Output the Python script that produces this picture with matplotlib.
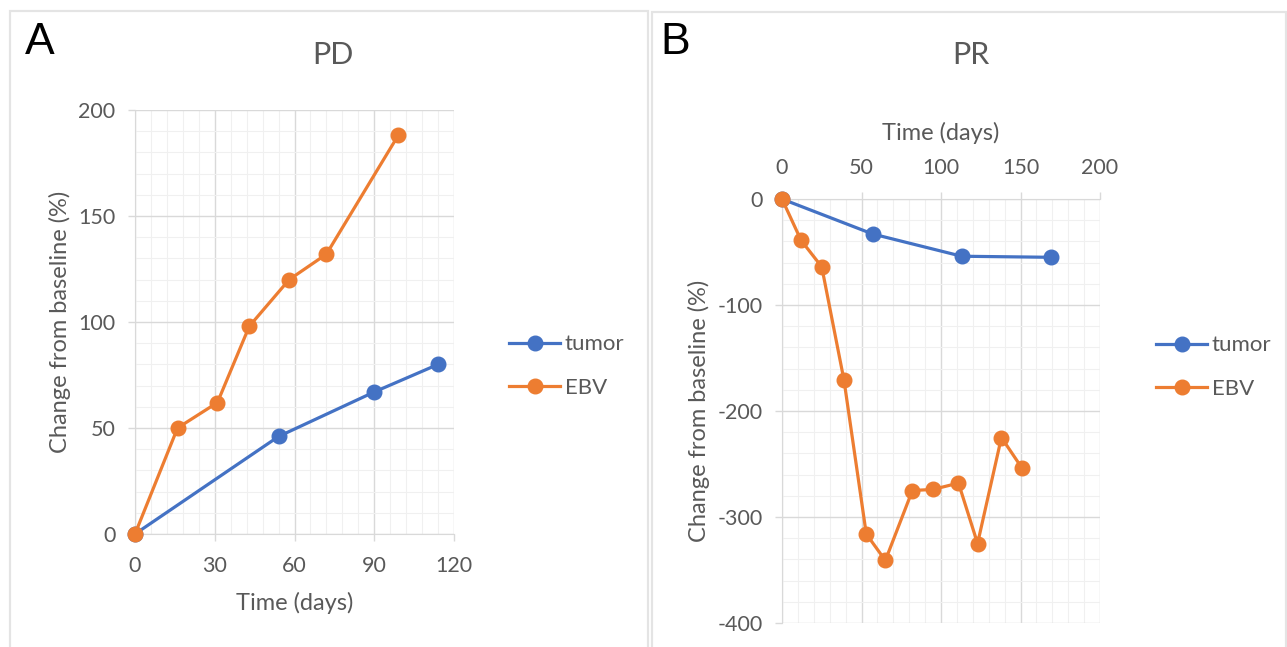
import numpy as np
import matplotlib
matplotlib.use("Agg")
import matplotlib.pyplot as plt
from matplotlib.patches import Rectangle
from matplotlib.ticker import MultipleLocator

# Panel A (PD): percentage change from baseline over time
pd_tumor_days = [0, 54, 90, 114]
pd_tumor_pct = [0, 46, 67, 80]
pd_ebv_days = [0, 16, 31, 43, 58, 72, 99]
pd_ebv_pct = [0, 50, 62, 98, 120, 132, 188]

# Panel B (PR)
pr_tumor_days = [0, 57, 113, 169]
pr_tumor_pct = [0, -33, -54, -55]
pr_ebv_days = [0, 12, 25, 39, 53, 65, 82, 95, 111, 123, 138, 151]
pr_ebv_pct = [0, -39, -64, -171, -316, -341, -275, -274, -268, -325, -225, -254]

BLUE = "#4472C4"
ORANGE = "#ED7D31"
GREY_TXT = "#595959"
MAJOR = "#d9d9d9"
MINOR = "#f0f0f0"

plt.rcParams["font.family"] = ["Lato", "DejaVu Sans"]
plt.rcParams["axes.unicode_minus"] = False

W, H = 1287, 647
fig = plt.figure(figsize=(W / 100, H / 100), dpi=100)


def px_axes(x0, y0, x1, y1):
    # axes rectangle given in pixel coordinates (top-left origin)
    return fig.add_axes([x0 / W, 1 - y1 / H, (x1 - x0) / W, (y1 - y0) / H])


# panel frames
for (x0, y0, x1, y1) in [(10, 11, 648, 660), (652, 12, 1286, 660)]:
    fig.patches.append(Rectangle((x0 / W, 1 - y1 / H), (x1 - x0) / W, (y1 - y0) / H,
                                 transform=fig.transFigure, fill=False,
                                 ec="#e4e4e4", lw=1.6, zorder=0))


def style(ax):
    for s in ax.spines.values():
        s.set_visible(False)
    ax.grid(True, which="major", color=MAJOR, lw=1.0, zorder=0)
    ax.grid(True, which="minor", color=MINOR, lw=0.8, zorder=0)
    ax.tick_params(which="both", colors=MAJOR, labelcolor=GREY_TXT, labelsize=15.5)
    ax.tick_params(which="major", length=5, width=1.0, pad=9)
    ax.tick_params(which="minor", length=0)
    ax.set_axisbelow(True)


def series(ax, x, y, color, label):
    ax.plot(x, y, color=color, lw=2.3, marker="o", markersize=10.5,
            label=label, zorder=3, clip_on=False)


def legend(ax, anchor):
    return ax.legend(loc="center left", bbox_to_anchor=anchor,
                     bbox_transform=fig.transFigure, frameon=False,
                     borderpad=0, borderaxespad=0,
                     fontsize=16, handlelength=2.3, handletextpad=0.2,
                     labelspacing=1.05, labelcolor=GREY_TXT)


# ---- A: PD ----
axA = px_axes(135, 110, 454, 534)
style(axA)
series(axA, pd_tumor_days, pd_tumor_pct, BLUE, "tumor")
series(axA, pd_ebv_days, pd_ebv_pct, ORANGE, "EBV")
axA.set_xlim(0, 120)
axA.set_ylim(0, 200)
axA.xaxis.set_major_locator(MultipleLocator(30))
axA.xaxis.set_minor_locator(MultipleLocator(6))
axA.yaxis.set_major_locator(MultipleLocator(50))
axA.yaxis.set_minor_locator(MultipleLocator(10))
for s in ("left", "bottom"):
    axA.spines[s].set_visible(True)
    axA.spines[s].set_color(MAJOR)
axA.tick_params(axis="x", pad=10.5)
axA.set_xlabel("Time (days)", fontsize=17, color=GREY_TXT, labelpad=12)
axA.set_ylabel("Change from baseline (%)", fontsize=17, color=GREY_TXT, labelpad=5)
fig.text(333 / W, 1 - 55 / H, "PD", fontsize=22, color=GREY_TXT,
         ha="center", va="center")
legend(axA, (509 / W, 1 - 366 / H))
fig.text(25 / W, 1 - 43 / H, "A", fontsize=32, family="Liberation Sans",
         ha="left", va="center", color="black")

# ---- B: PR ----
axB = px_axes(782, 199, 1100, 623)
style(axB)
series(axB, pr_tumor_days, pr_tumor_pct, BLUE, "tumor")
series(axB, pr_ebv_days, pr_ebv_pct, ORANGE, "EBV")
axB.set_xlim(0, 200)
axB.set_ylim(-400, 0)
axB.xaxis.set_major_locator(MultipleLocator(50))
axB.xaxis.set_minor_locator(MultipleLocator(10))
axB.yaxis.set_major_locator(MultipleLocator(100))
axB.yaxis.set_minor_locator(MultipleLocator(20))
axB.xaxis.tick_top()
axB.xaxis.set_label_position("top")
for s in ("left", "top"):
    axB.spines[s].set_visible(True)
    axB.spines[s].set_color(MAJOR)
axB.tick_params(axis="x", pad=10)
axB.set_xlabel("Time (days)", fontsize=17, color=GREY_TXT, labelpad=13)
axB.set_ylabel("Change from baseline (%)", fontsize=17, color=GREY_TXT, labelpad=5)
fig.text(971 / W, 1 - 55 / H, "PR", fontsize=22, color=GREY_TXT,
         ha="center", va="center")
legend(axB, (1156 / W, 1 - 367 / H))
fig.text(660 / W, 1 - 43 / H, "B", fontsize=32, family="Liberation Sans",
         ha="left", va="center", color="black")

fig.savefig("out.png", dpi=100, facecolor="white")
